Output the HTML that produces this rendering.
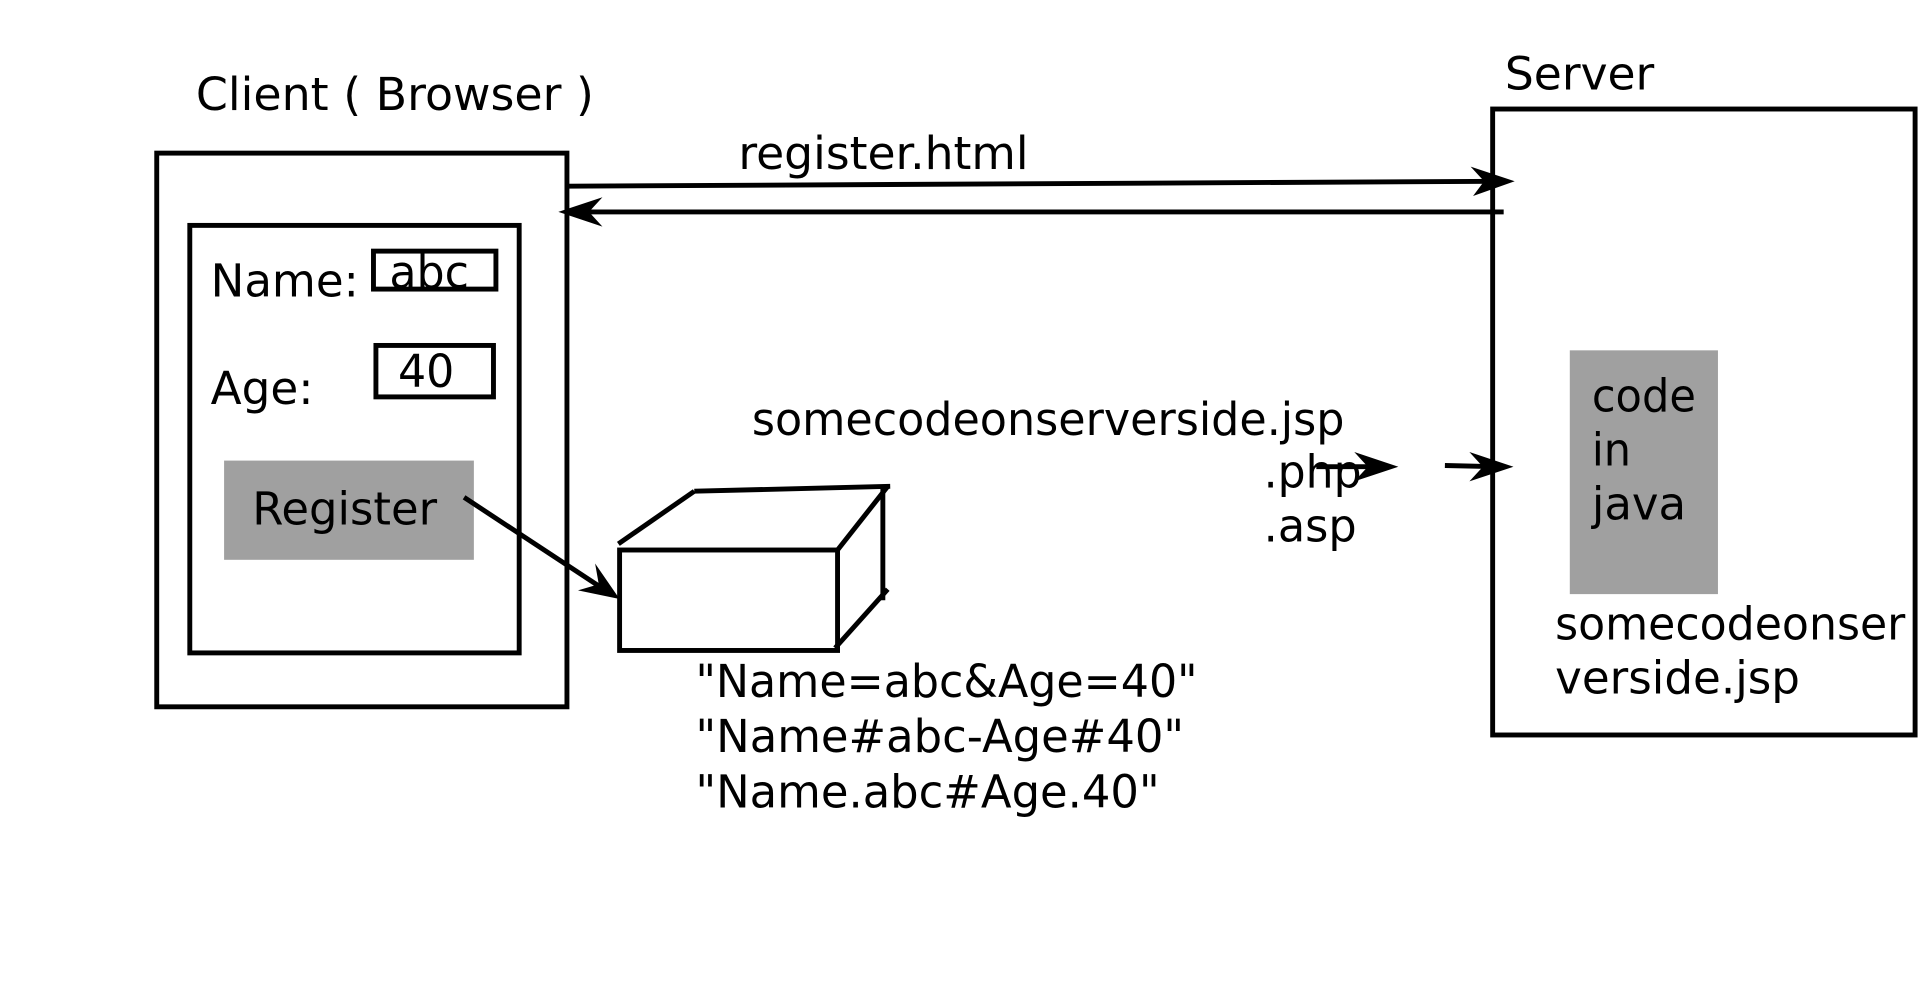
<!DOCTYPE html>
<html><head><meta charset="utf-8"><style>
html,body{margin:0;padding:0;background:#fff;width:1920px;height:991px;overflow:hidden}
svg{display:block}
text{font-family:"DejaVu Sans","Liberation Sans",sans-serif;font-size:37px;fill:#000}
</style></head><body>
<svg width="1920" height="991" viewBox="0 0 1568 809" preserveAspectRatio="none" xmlns="http://www.w3.org/2000/svg">
<rect x="183" y="376" width="204" height="81" fill="#a0a0a0"/>
<rect x="1282" y="286" width="121" height="199" fill="#a0a0a0"/>
<g fill="none" stroke="#000" stroke-width="4">
<rect x="128" y="125" width="335" height="452"/>
<rect x="155" y="184" width="269" height="349"/>
<rect x="305" y="205" width="100" height="31"/>
<rect x="307" y="282" width="96" height="42"/>
<rect x="1219" y="89" width="345" height="511"/>
<rect x="506" y="449" width="178" height="82"/>
<polyline points="505,444 567,401"/>
<polyline points="567,401 727,397"/>
<polyline points="684,449 725,397"/>
<polyline points="721,397 721,490"/>
<polyline points="682,529 725,481"/>
<line x1="463" y1="152" x2="1222" y2="148"/>
<line x1="1228" y1="173" x2="472" y2="173"/>
<line x1="379" y1="406" x2="493" y2="481"/>
<line x1="1075" y1="381" x2="1125" y2="381"/>
<line x1="1180" y1="380" x2="1222" y2="381"/>
</g>
<g fill="#000">
<polygon points="1237,148 1201,136 1212,148 1203,160"/>
<polygon points="456,173 492,161 481,173 492,185"/>
<polygon points="506,489 486,460 489,477 472,482"/>
<polygon points="1142,381 1106,369 1117,381 1106,393"/>
<polygon points="1236,381 1200,369 1211,381 1200,393"/>
</g>
<g lengthAdjust="spacingAndGlyphs">
<text x="160" y="90" textLength="325" lengthAdjust="spacingAndGlyphs">Client ( Browser )</text>
<text x="1229" y="73" textLength="122" lengthAdjust="spacingAndGlyphs">Server</text>
<text x="603" y="138" textLength="237" lengthAdjust="spacingAndGlyphs">register.html</text>
<text x="172" y="242" textLength="121" lengthAdjust="spacingAndGlyphs">Name:</text>
<text x="318" y="235" textLength="65" lengthAdjust="spacingAndGlyphs">abc</text>
<text x="172" y="330" textLength="84" lengthAdjust="spacingAndGlyphs">Age:</text>
<text x="325" y="316" textLength="46" lengthAdjust="spacingAndGlyphs">40</text>
<text x="206" y="428" textLength="151" lengthAdjust="spacingAndGlyphs">Register</text>
<text x="614" y="355" textLength="484" lengthAdjust="spacingAndGlyphs">somecodeonserverside.jsp</text>
<text x="1032" y="398" textLength="80" lengthAdjust="spacingAndGlyphs">.php</text>
<text x="1032" y="442" textLength="76" lengthAdjust="spacingAndGlyphs">.asp</text>
<text x="568" y="569" textLength="410" lengthAdjust="spacingAndGlyphs">"Name=abc&amp;Age=40"</text>
<text x="568" y="614" textLength="399" lengthAdjust="spacingAndGlyphs">"Name#abc-Age#40"</text>
<text x="568" y="659" textLength="379" lengthAdjust="spacingAndGlyphs">"Name.abc#Age.40"</text>
<text x="1300" y="336" textLength="85" lengthAdjust="spacingAndGlyphs">code</text>
<text x="1300" y="380" textLength="32" lengthAdjust="spacingAndGlyphs">in</text>
<text x="1300" y="424" textLength="77" lengthAdjust="spacingAndGlyphs">java</text>
<text x="1270" y="522" textLength="286" lengthAdjust="spacingAndGlyphs">somecodeonser</text>
<text x="1270" y="566" textLength="200" lengthAdjust="spacingAndGlyphs">verside.jsp</text>
</g>
</svg>
</body></html>
